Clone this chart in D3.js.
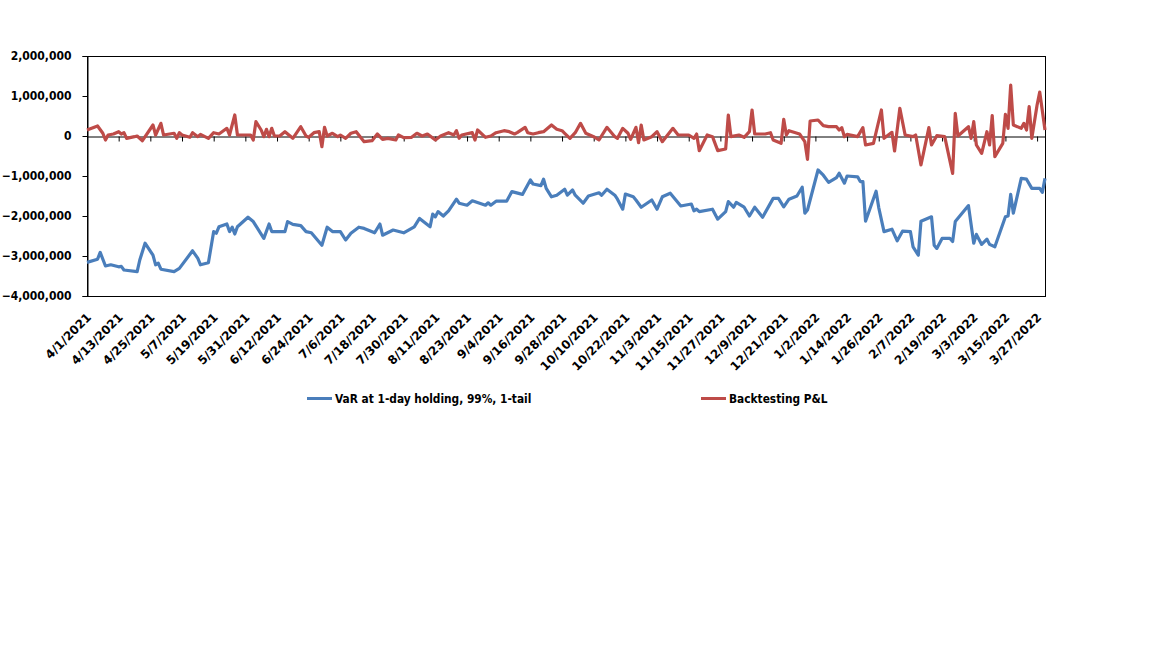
<!DOCTYPE html>
<html>
<head>
<meta charset="utf-8">
<script src="https://cdn.jsdelivr.net/npm/d3@7"></script>
<style>
  body { margin: 0; background: #fff; }
  svg text { font-family: "DejaVu Sans Condensed", "DejaVu Sans", sans-serif; font-stretch: condensed; font-weight: bold; font-size: 12px; fill: #000; }
  svg text.xlabel { font-family: "DejaVu Sans", sans-serif; font-stretch: normal; font-size: 12px; }
  svg text.legend { font-size: 11.8px; }
</style>
</head>
<body>
<svg width="1152" height="648"></svg>
<script>
// days counted from 4/1/2021
var startDate = "4/1/2021";
var endDate = "3/30/2022";

var tickLabels = ["4/1/2021","4/13/2021","4/25/2021","5/7/2021","5/19/2021","5/31/2021","6/12/2021","6/24/2021",
  "7/6/2021","7/18/2021","7/30/2021","8/11/2021","8/23/2021","9/4/2021","9/16/2021","9/28/2021","10/10/2021",
  "10/22/2021","11/3/2021","11/15/2021","11/27/2021","12/9/2021","12/21/2021","1/2/2022","1/14/2022",
  "1/26/2022","2/7/2022","2/19/2022","3/3/2022","3/15/2022","3/27/2022"];

var yTicks = [2000000, 1000000, 0, -1000000, -2000000, -3000000, -4000000];

var seriesNames = ["VaR at 1-day holding, 99%, 1-tail", "Backtesting P&L"];

var varDays = [0,4,5,7,9,12,13,14,19,20,22,25,26,27,28,33,35,40,42,43,46,48,49,50,53,54,55,56,57,61,63,67,69,70,75,76,78,81,83,85,
  89,91,93,96,98,100,103,105,109,111,112,116,120,124,126,130,131,132,133,135,137,140,141,144,146,151,152,153,155,159,
  161,165,168,169,172,173,174,176,178,181,182,184,185,188,190,194,195,197,200,201,203,204,207,208,210,214,216,218,221,225,
  229,230,231,232,237,239,242,243,245,246,249,251,253,256,260,262,264,266,269,271,272,273,277,279,281,284,285,287,288,292,
  293,294,295,299,300,302,305,307,309,312,313,315,316,320,321,322,324,327,328,329,334,336,337,339,341,342,344,348,349,350,
  351,354,356,358,361,362,363];
var varValues = [-3160000,-3080000,-2910000,-3250000,-3220000,-3270000,-3260000,-3350000,-3390000,-3100000,-2680000,-2980000,-3220000,-3180000,-3330000,-3390000,-3310000,-2870000,-3060000,-3220000,
  -3170000,-2390000,-2430000,-2270000,-2200000,-2390000,-2280000,-2450000,-2270000,-2030000,-2140000,-2560000,-2200000,-2390000,-2390000,-2140000,-2210000,-2240000,-2390000,-2420000,
  -2730000,-2280000,-2390000,-2390000,-2600000,-2430000,-2280000,-2310000,-2420000,-2200000,-2480000,-2350000,-2420000,-2270000,-2060000,-2270000,-1950000,-2020000,-1890000,-2000000,
  -1870000,-1580000,-1680000,-1730000,-1620000,-1730000,-1670000,-1730000,-1630000,-1630000,-1390000,-1460000,-1100000,-1200000,-1240000,-1080000,-1310000,-1520000,-1480000,-1330000,
  -1480000,-1350000,-1480000,-1680000,-1500000,-1420000,-1480000,-1330000,-1480000,-1580000,-1830000,-1450000,-1520000,-1600000,-1780000,-1600000,-1830000,-1520000,-1430000,-1750000,
  -1700000,-1870000,-1830000,-1890000,-1830000,-2080000,-1890000,-1640000,-1780000,-1660000,-1780000,-2000000,-1780000,-2030000,-1560000,-1560000,-1770000,-1580000,-1500000,-1280000,
  -1930000,-1850000,-850000,-980000,-1160000,-1040000,-930000,-1180000,-1000000,-1020000,-1140000,-1140000,-2130000,-1380000,-1790000,-2390000,-2330000,-2620000,-2380000,-2390000,
  -2770000,-2980000,-2130000,-2020000,-2730000,-2810000,-2560000,-2560000,-2640000,-2140000,-1740000,-2680000,-2460000,-2710000,-2580000,-2710000,-2770000,-2020000,-2000000,-1460000,
  -1930000,-1060000,-1080000,-1310000,-1310000,-1410000,-1060000];

var plDays = [0,4,6,7,8,10,12,13,14,15,18,19,21,25,26,28,29,33,34,35,36,39,40,42,43,46,48,50,53,54,56,57,62,63,64,66,67,68,69,70,
  71,73,75,78,81,83,84,86,88,89,90,91,93,95,96,98,100,102,105,108,110,112,114,117,118,120,123,125,127,129,
  132,134,137,139,140,141,142,146,147,148,151,153,155,158,160,162,163,166,167,169,171,173,176,178,180,181,183,185,187,189,
  192,194,197,200,201,203,205,206,208,209,210,211,214,216,218,222,224,228,230,231,232,235,237,239,242,243,244,247,249,251,
  252,253,257,259,260,263,264,265,266,270,272,273,274,277,279,281,284,285,286,287,288,292,294,295,298,301,302,305,306,308,
  310,313,314,316,319,320,322,325,328,329,330,334,335,336,337,339,341,342,343,344,347,348,349,350,351,354,355,356,357,358,
  360,361,363];
var plValues = [150000,250000,68000,-100000,25000,50000,108000,50000,83000,-58000,-17000,0,-117000,275000,25000,317000,25000,68000,-58000,83000,
  25000,-33000,83000,-17000,42000,-58000,83000,50000,192000,25000,525000,25000,25000,-100000,358000,150000,-17000,168000,-17000,192000,
  0,0,108000,-58000,233000,0,-33000,83000,108000,-267000,217000,0,68000,-17000,25000,-58000,68000,108000,-142000,-117000,
  50000,-83000,-58000,-100000,25000,-42000,-33000,68000,0,50000,-100000,0,83000,25000,133000,-58000,25000,83000,-100000,150000,
  -33000,0,83000,133000,108000,50000,83000,217000,83000,50000,83000,108000,275000,168000,133000,68000,-58000,83000,317000,68000,
  -17000,-100000,217000,-17000,-58000,192000,68000,-83000,217000,-167000,275000,-100000,-17000,108000,-142000,192000,25000,25000,-58000,50000,
  -367000,25000,-17000,-367000,-325000,525000,-17000,25000,-33000,108000,650000,50000,50000,83000,-100000,-183000,417000,25000,133000,50000,
  -142000,-583000,375000,400000,258000,233000,233000,150000,208000,-17000,42000,-17000,208000,-225000,-183000,650000,-58000,92000,-375000,692000,
  25000,-17000,25000,-725000,208000,-225000,8000,-17000,-933000,567000,0,233000,-58000,358000,-225000,-433000,108000,-225000,508000,-517000,
  -183000,542000,192000,1275000,275000,192000,317000,150000,733000,-58000,775000,1100000,150000];

var colors = ["#4A7EBB", "#BE4B48"];

var parseDate = d3.timeParse("%m/%d/%Y");
var start = parseDate(startDate);

var svg = d3.select("svg"),
    margin = {top: 56, left: 87},
    w = 1045 - 87,
    h = 296 - 56;

svg.append("rect").attr("width", 1152).attr("height", 648).attr("fill", "#fff");

var xScale = d3.scaleTime().domain([start, parseDate(endDate)]).range([0, w]),
    yScale = d3.scaleLinear().domain([-4000000, 2000000]).range([h, 0]);

var g = svg.append("g")
    .attr("transform", "translate(" + margin.left + "," + margin.top + ")");

// plot frame
g.append("rect")
    .attr("x", 0.5).attr("y", 0.5)
    .attr("width", w).attr("height", h)
    .attr("fill", "none")
    .attr("stroke", "#000")
    .attr("stroke-width", 1);

// y axis
var yAxis = g.append("g")
    .attr("transform", "translate(0.5,0)")
    .call(d3.axisLeft(yScale).tickValues(yTicks).tickSize(5).tickPadding(11).tickFormat(d3.format(",")));
yAxis.select(".domain").attr("stroke", "#000");
yAxis.selectAll("text").attr("font-family", null).attr("font-size", null);

// x axis on the zero line
var tickDates = tickLabels.map(function(s) { return parseDate(s); });
var xAxis = g.append("g")
    .attr("transform", "translate(0," + (Math.round(yScale(0)) + 0.5) + ")")
    .call(d3.axisBottom(xScale).tickValues(tickDates).tickSize(5).tickFormat(""));
xAxis.select(".domain").attr("stroke", "#000");

// x labels along bottom of plot
g.append("g").selectAll("text")
    .data(tickLabels)
  .enter().append("text")
    .attr("class", "xlabel")
    .attr("transform", function(d) {
      return "translate(" + (xScale(parseDate(d)) + 5) + "," + (h + 22) + ") rotate(-45)";
    })
    .attr("text-anchor", "end")
    .text(function(d) { return d; });

// lines
var line = d3.line()
    .x(function(d) { return xScale(d3.timeDay.offset(start, d[0])); })
    .y(function(d) { return yScale(d[1]); });

var varData = varDays.map(function(d, i) { return [d, varValues[i]]; });
var plData = plDays.map(function(d, i) { return [d, plValues[i]]; });

[varData, plData].forEach(function(data, i) {
  g.append("path")
      .datum(data)
      .attr("fill", "none")
      .attr("stroke", colors[i])
      .attr("stroke-width", 3.2)
      .attr("stroke-linejoin", "round")
      .attr("d", line);
});

// legend
var legendX = [307, 701];
var legend = svg.append("g").selectAll("g")
    .data(seriesNames)
  .enter().append("g")
    .attr("transform", function(d, i) { return "translate(" + legendX[i] + ",398.5)"; });

legend.append("line")
    .attr("x1", 0).attr("x2", 25)
    .attr("stroke", function(d, i) { return colors[i]; })
    .attr("stroke-width", 3);

legend.append("text")
    .attr("class", "legend")
    .attr("x", 28)
    .attr("dy", "0.35em")
    .text(function(d) { return d; });
</script>
</body>
</html>
